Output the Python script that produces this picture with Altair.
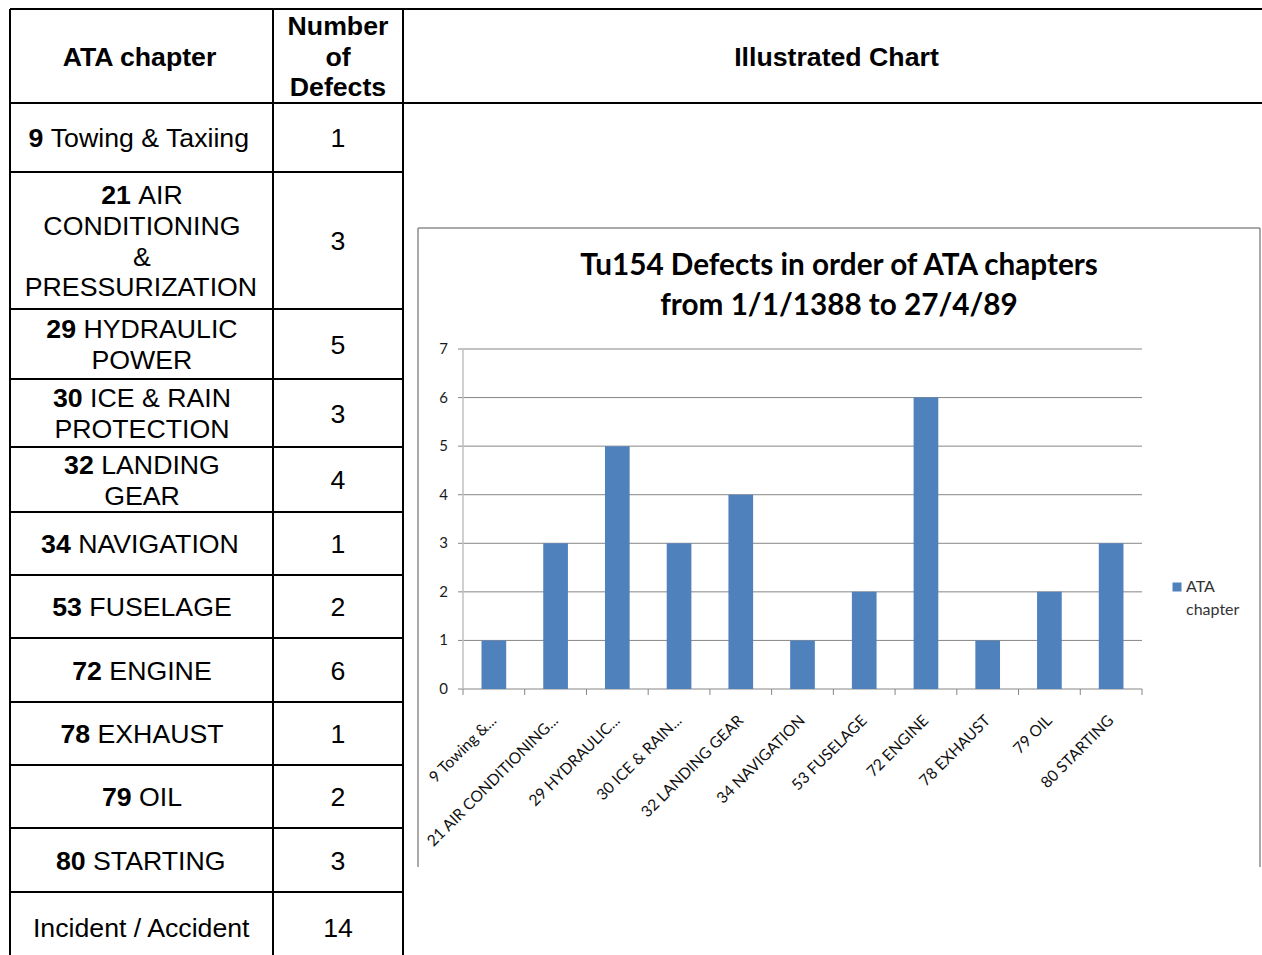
import altair as alt
import pandas as pd

# ---------------- data ----------------
# table: each chapter row as wrapped lines of (bold number part, regular part)
table_lines = [
    [("9", "Towing & Taxiing")],
    [("21", "AIR"), ("", "CONDITIONING"), ("", "&"), ("", "PRESSURIZATION")],
    [("29", "HYDRAULIC"), ("", "POWER")],
    [("30", "ICE & RAIN"), ("", "PROTECTION")],
    [("32", "LANDING"), ("", "GEAR")],
    [("34", "NAVIGATION")],
    [("53", "FUSELAGE")],
    [("72", "ENGINE")],
    [("78", "EXHAUST")],
    [("79", "OIL")],
    [("80", "STARTING")],
    [("", "Incident / Accident")],
]
table_defects = [1, 3, 5, 3, 4, 1, 2, 6, 1, 2, 3, 14]
header_col1 = ["ATA chapter"]
header_col2 = ["Number", "of", "Defects"]
header_col3 = ["Illustrated Chart"]

chart_categories = ["9 Towing &...", "21 AIR CONDITIONING...", "29 HYDRAULIC...",
                    "30 ICE & RAIN...", "32 LANDING GEAR", "34 NAVIGATION",
                    "53 FUSELAGE", "72 ENGINE", "78 EXHAUST", "79 OIL", "80 STARTING"]
chart_values = [1, 3, 5, 3, 4, 1, 2, 6, 1, 2, 3]
chart_title = ["Tu154 Defects in order of ATA chapters", "from 1/1/1388 to 27/4/89"]
y_ticks = [0, 1, 2, 3, 4, 5, 6, 7]
legend_label = ["ATA", "chapter"]

# ---------------- layout ----------------
row_edges = [9, 103, 172, 309, 379, 447, 512, 575, 638, 702, 765, 828, 892, 955]
last_row_text_bottom = 962   # last row continues past the picture's edge
col_edges = [10, 273, 403]
right_edge = 1262
FS = 26.7
LINE_H = 30.8
Y_SHIFT = 1.6

# Arial / Liberation Sans advance widths (per 1000 em)
REG = {' ': 278, '&': 667, '/': 278, '.': 278}
for ch in "0123456789":
    REG[ch] = 556
REG.update(dict(zip("ABCDEFGHIJKLMNOPQRSTUVWXYZ",
                    [667, 667, 722, 722, 667, 611, 778, 722, 278, 500, 667, 556, 833,
                     722, 778, 667, 778, 722, 667, 611, 722, 667, 944, 667, 667, 611])))
REG.update(dict(zip("abcdefghijklmnopqrstuvwxyz",
                    [556, 556, 500, 556, 556, 278, 556, 556, 222, 222, 500, 222, 833,
                     556, 556, 556, 556, 333, 500, 278, 556, 500, 722, 500, 500, 500])))
BOLD = {' ': 278}
for ch in "0123456789":
    BOLD[ch] = 556
BOLD.update(dict(zip("ABCDEFGHIJKLMNOPQRSTUVWXYZ",
                     [722, 722, 722, 722, 667, 611, 778, 722, 278, 556, 722, 611, 833,
                      722, 778, 667, 778, 722, 667, 611, 722, 667, 944, 667, 667, 611])))
BOLD.update(dict(zip("abcdefghijklmnopqrstuvwxyz",
                     [556, 611, 556, 611, 556, 333, 611, 611, 278, 278, 556, 278, 889,
                      611, 611, 611, 611, 389, 556, 333, 611, 556, 778, 556, 556, 500])))


def width(s, table):
    return sum(table.get(c, 556) for c in s) * FS / 1000.0


pieces = []


def add_line(cx, y, bold, reg):
    wb = width(bold, BOLD)
    gap = width(" ", REG) if (bold and reg) else 0
    wr = width(reg, REG)
    x0 = cx - (wb + gap + wr) / 2
    if bold:
        pieces.append({"x": x0, "y": y, "t": bold, "w": "bold"})
    if reg:
        pieces.append({"x": x0 + wb + gap, "y": y, "t": reg, "w": "normal"})


def add_block(cx, top, bottom, lines):
    mid = (top + bottom) / 2 + Y_SHIFT
    n = len(lines)
    for i, (b, r) in enumerate(lines):
        add_line(cx, mid + (i - (n - 1) / 2) * LINE_H, b, r)


c1 = (col_edges[0] + col_edges[1]) / 2 + 0.5
c2 = (col_edges[1] + col_edges[2]) / 2
c3 = (col_edges[2] + right_edge) / 2 + 4
add_block(c1, row_edges[0], row_edges[1], [(h, "") for h in header_col1])
add_block(c2, row_edges[0], row_edges[1], [(h, "") for h in header_col2])
add_block(c3, row_edges[0], row_edges[1], [(h, "") for h in header_col3])
n_rows = len(table_lines)
for i, lines in enumerate(table_lines):
    top = row_edges[i + 1]
    bottom = row_edges[i + 2] if i < n_rows - 1 else last_row_text_bottom
    add_block(c1, top, bottom, lines)
    add_block(c2, top, bottom, [("", str(table_defects[i]))])

df_text = pd.DataFrame(pieces)

rules = []
for y in row_edges[:2]:
    rules.append({"x": col_edges[0], "x2": right_edge, "y": y, "y2": y})
for y in row_edges[2:-1]:
    rules.append({"x": col_edges[0], "x2": col_edges[2], "y": y, "y2": y})
for x in col_edges:
    rules.append({"x": x, "x2": x, "y": row_edges[0], "y2": row_edges[-1]})
df_rules = pd.DataFrame(rules)

frame = pd.DataFrame([
    {"x": 418, "x2": 1260, "y": 228, "y2": 228},
    {"x": 418, "x2": 418, "y": 228, "y2": 867},
    {"x": 1260, "x2": 1260, "y": 228, "y2": 867},
])

px = lambda f: alt.X(f, type="quantitative", scale=None, axis=None)
py = lambda f: alt.Y(f, type="quantitative", scale=None, axis=None)

table_rules = alt.Chart(df_rules).mark_rule(color="black", strokeWidth=2).encode(
    x=px("x"), x2="x2", y=py("y"), y2="y2")
frame_rules = alt.Chart(frame).mark_rule(color="#8c8c8c", strokeWidth=1.5).encode(
    x=px("x"), x2="x2", y=py("y"), y2="y2")
text_bold = alt.Chart(df_text).transform_filter("datum.w == 'bold'").mark_text(
    font="Liberation Sans", fontSize=FS, fontWeight="bold", align="left",
    baseline="middle", color="black").encode(x=px("x"), y=py("y"), text="t:N")
text_reg = alt.Chart(df_text).transform_filter("datum.w == 'normal'").mark_text(
    font="Liberation Sans", fontSize=FS, align="left",
    baseline="middle", color="black").encode(x=px("x"), y=py("y"), text="t:N")

# ---------------- bar chart ----------------
X0, X1, Y0, Y1 = 463, 1142, 689, 349
df_bars = pd.DataFrame({"cat": chart_categories, "val": chart_values})
x_scale = alt.Scale(domain=chart_categories, range=[X0, X1], paddingInner=0.6, paddingOuter=0.3)
y_scale = alt.Scale(domain=[0, 7], range=[Y0, Y1], nice=False, zero=True)

bars = alt.Chart(df_bars).mark_bar(color="#4F81BD").encode(
    x=alt.X("cat:N", scale=x_scale, axis=None),
    y=alt.Y("val:Q", scale=y_scale, axis=None))

df_ticks = pd.DataFrame({"t": y_ticks})
grid = alt.Chart(df_ticks).mark_rule(color="#868686", strokeWidth=1).encode(
    y=alt.Y("t:Q", scale=y_scale, axis=None), x=alt.value(458), x2=alt.value(X1))
ylabels = alt.Chart(df_ticks).mark_text(
    font="Lato", fontSize=15, align="right", baseline="middle", color="#1a1a1a").encode(
    y=alt.Y("t:Q", scale=y_scale, axis=None), x=alt.value(448), text="t:Q")
yaxis = alt.Chart(pd.DataFrame({"a": [0]})).mark_rule(color="#c0c0c0", strokeWidth=1.5).encode(
    x=alt.value(X0), y=alt.value(Y1), y2=alt.value(Y0))

df_bounds = pd.DataFrame({"b": list(range(len(chart_categories) + 1))})
xticks = alt.Chart(df_bounds).mark_rule(color="#868686", strokeWidth=1).encode(
    x=alt.X("b:Q", scale=alt.Scale(domain=[0, len(chart_categories)], range=[X0, X1]), axis=None),
    y=alt.value(Y0), y2=alt.value(Y0 + 6))

xlabels = alt.Chart(df_bars).mark_text(
    font="Lato", fontSize=15.6, align="right", baseline="middle", angle=315,
    color="#111111").encode(
    x=alt.X("cat:N", scale=x_scale, axis=None), y=alt.value(718), text="cat:N")

df_title = pd.DataFrame({"t": chart_title, "i": [0, 1]})
title = alt.Chart(df_title).mark_text(
    font="Lato", fontSize=29.7, fontWeight="bold", align="center", baseline="middle",
    color="black").encode(
    x=alt.value(839), y=alt.Y("i:Q", scale=alt.Scale(domain=[0, 1], range=[266, 306]), axis=None),
    text="t:N")

legend_sq = alt.Chart(pd.DataFrame({"s": ["ATA chapter"]})).mark_square(
    size=81, color="#4F81BD", opacity=1).encode(x=alt.value(1177), y=alt.value(587))
df_leg = pd.DataFrame({"t": legend_label, "i": [0, 1]})
legend_txt = alt.Chart(df_leg).mark_text(
    font="Lato", fontSize=16, align="left", baseline="middle", color="#333333").encode(
    x=alt.value(1186), y=alt.Y("i:Q", scale=alt.Scale(domain=[0, 1], range=[587, 610]), axis=None),
    text="t:N")

chart = alt.layer(
    table_rules, text_bold, text_reg, frame_rules,
    grid, yaxis, xticks, bars, ylabels, xlabels, title, legend_sq, legend_txt,
).resolve_scale(x="independent", y="independent").properties(
    width=1262, height=955, padding=0, autosize=alt.AutoSizeParams(type="none"),
    background="white",
).configure_view(stroke=None)

chart.save("out.html", embed_options={"renderer": "svg", "actions": False})
